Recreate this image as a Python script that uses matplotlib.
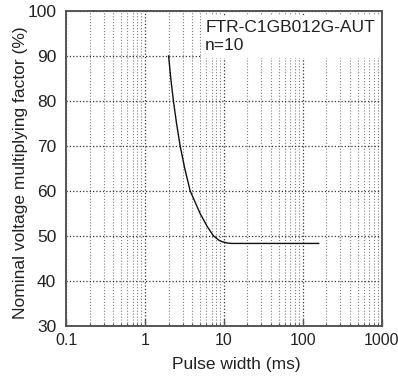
import numpy as np
import matplotlib.pyplot as plt
from matplotlib.ticker import LogLocator, FixedLocator, NullFormatter

plt.rcParams['font.family'] = ['Liberation Sans', 'DejaVu Sans']

# curve
pulse_ms = [2.0, 2.13, 2.3, 2.52, 2.8, 3.2, 3.75, 5.0, 6.2, 7.4, 8.7, 9.5, 11.0, 12.5, 20, 50, 100, 160]
factor = [90, 85, 80, 75, 70, 65, 60, 55, 52, 50, 49, 48.7, 48.4, 48.3, 48.3, 48.3, 48.3, 48.3]

x_ticks = [0.1, 1, 10, 100, 1000]
x_labels = ['0.1', '1', '10', '100', '1000']
y_ticks = [30, 40, 50, 60, 70, 80, 90, 100]

fig = plt.figure(figsize=(3.98, 3.8), dpi=100)
ax = fig.add_axes([66 / 398, 1 - 325.7 / 380, 315.5 / 398, 314.7 / 380])

ax.set_xscale('log')
ax.set_xlim(0.1, 1000)
ax.set_ylim(30, 100)

ax.xaxis.set_major_locator(FixedLocator(x_ticks))
ax.set_xticklabels(x_labels)
ax.xaxis.set_minor_locator(LogLocator(base=10, subs=np.arange(2, 10)))
ax.xaxis.set_minor_formatter(NullFormatter())
ax.set_yticks(y_ticks)

ax.grid(which='major', ls=':', color='#333333', lw=0.9)
ax.grid(which='minor', axis='x', ls=':', color='#808080', lw=0.8)

ax.plot(pulse_ms, factor, color='#111111', lw=1.0, zorder=3)

ax.tick_params(axis='x', which='major', direction='in', length=5, width=1, color='#555555',
               labelsize=11.5, pad=5, labelcolor='#222222')
ax.tick_params(axis='x', which='minor', direction='in', length=2.5, width=0.8, color='#555555')
ax.tick_params(axis='y', which='major', length=0, labelsize=12.5, pad=7, labelcolor='#222222')
for s in ax.spines.values():
    s.set_color('#555555')
    s.set_linewidth(1.4)

ax.set_xlabel('Pulse width (ms)', fontsize=12.5, color='#222222')
ax.set_ylabel('Nominal voltage multiplying factor (%)', fontsize=12.5, color='#222222')
ax.xaxis.set_label_coords(0.539, -0.098)
ax.yaxis.set_label_coords(-0.122, 0.487)

ax.text(0.441, 0.972, 'FTR-C1GB012G-AUT\nn=10', transform=ax.transAxes, ha='left', va='top',
        fontsize=12.5, linespacing=1.3, zorder=4, color='#222222',
        bbox=dict(facecolor='white', edgecolor='none', pad=3))

fig.savefig('out.png', dpi=100)
